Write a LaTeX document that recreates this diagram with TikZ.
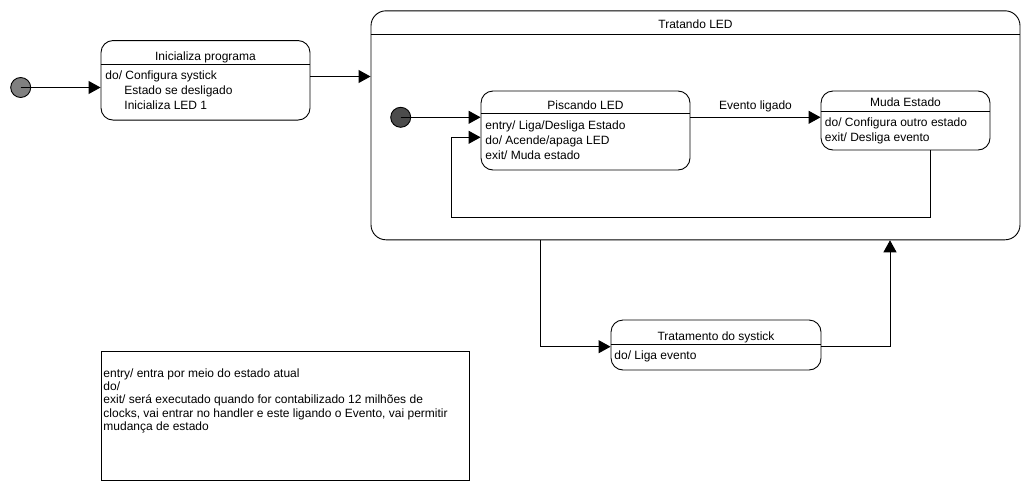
\documentclass[tikz,border=0pt]{standalone}
\usepackage{fontspec}
\setmainfont{Liberation Sans}
\usetikzlibrary{arrows.meta,positioning}

\begin{document}
\begin{tikzpicture}[x=1pt, y=-1pt, line width=0.9pt,
      every node/.append style={font=\fontsize{12}{13.4}\selectfont, inner sep=0pt},
      trans/.style={-{Triangle[length=12pt,width=13pt]}},
      state/.style={draw, rounded corners=12pt, fill=white},
      start/.style={draw, circle, minimum size=20pt},
      title/.style={anchor=base},
      act/.style={anchor=base west}]
      \useasboundingbox (0,0) rectangle (1030,490);

      % outer composite state
      \node (trat) [state, rounded corners=15pt, minimum width=649pt, minimum height=229pt] at (695.5,125.3) {};
      \draw ([yshift=-24.3pt]trat.north west) -- ([yshift=-24.3pt]trat.north east);
      \node (tratT) [title] at (695.5,28.3) {Tratando LED};

      % states
      \node (ini) [state, minimum width=209pt, minimum height=79.5pt] at (205.5,80.3) {};
      \draw ([yshift=-24.5pt]ini.north west) -- ([yshift=-24.5pt]ini.north east);
      \node (iniT) [title] at (205.5,60) {Inicializa programa};
      \node (ini1) [act] at (105,79.3) {do/ Configura systick};
      \node (ini2) [act] at (124,94.7) {Estado se desligado};
      \node (ini3) [act] at (124,109.5) {Inicializa LED 1};

      \node (pisc) [state, minimum width=209pt, minimum height=79pt] at (585.5,130.5) {};
      \draw ([yshift=-23.3pt]pisc.north west) -- ([yshift=-23.3pt]pisc.north east);
      \node (piscT) [title] at (585.5,109.3) {Piscando LED};
      \node (pisc1) [act] at (485,129.3) {entry/ Liga/Desliga Estado};
      \node (pisc2) [act] at (485,144.2) {do/ Acende/apaga LED};
      \node (pisc3) [act] at (485,159) {exit/ Muda estado};

      \node (muda) [state, minimum width=169pt, minimum height=59pt] at (905.5,120.5) {};
      \draw ([yshift=-21.3pt]muda.north west) -- ([yshift=-21.3pt]muda.north east);
      \node (mudaT) [title] at (905.5,106.7) {Muda Estado};
      \node (muda1) [act] at (824.5,126.7) {do/ Configura outro estado};
      \node (muda2) [act] at (824.5,141.2) {exit/ Desliga evento};

      \node (tsys) [state, minimum width=210pt, minimum height=50pt] at (716,345) {};
      \draw ([yshift=-25pt]tsys.north west) -- ([yshift=-25pt]tsys.north east);
      \node (tsysT) [title] at (716,340) {Tratamento do systick};
      \node (tsys1) [act] at (614,359.3) {do/ Liga evento};

      % initial pseudo states
      \node (c1) [start, fill=black!50] at (20.7,87.5) {};
      \node (c2) [start, fill=black!70] at (400.7,117.3) {};

      % note
      \node (note) [draw, minimum width=368pt, minimum height=129pt] at (285,415.5) {};
      \node (note1) [act] at (103,377) {entry/ entra por meio do estado atual};
      \node (note2) [act] at (103,390.4) {do/};
      \node (note3) [act] at (103,403.8) {exit/ será executado quando for contabilizado 12 milhões de};
      \node (note4) [act] at (103,417.2) {clocks, vai entrar no handler e este ligando o Evento, vai permitir};
      \node (note5) [act] at (103,430.6) {mudança de estado};

      % transitions
      \coordinate (iniOut) at ([yshift=3.8pt]ini.east);
      \coordinate (loopA) at (930,217.3);
      \coordinate (loopB) at (451,137.3);
      \coordinate (sysIn) at (540.7,346.7);
      \coordinate (sysUp) at (890,346.7);
      \draw[trans] (c1.center) -- (c1 -| ini.west);
      \draw[trans] (iniOut) -- (iniOut -| trat.west);
      \draw[trans] (c2.center) -- (c2 -| pisc.west);
      \draw[trans] (c2 -| pisc.east) -- node[above=5pt] {Evento ligado} (c2 -| muda.west);
      \draw[trans] (loopA |- muda.south) -- (loopA) -- (loopA -| loopB) -- (loopB) -- (loopB -| pisc.west);
      \draw[trans] (sysIn |- trat.south) -- (sysIn) -- (sysIn -| tsys.west);
      \draw[trans] (sysIn -| tsys.east) -- (sysUp) -- (sysUp |- trat.south);
\end{tikzpicture}
\end{document}
